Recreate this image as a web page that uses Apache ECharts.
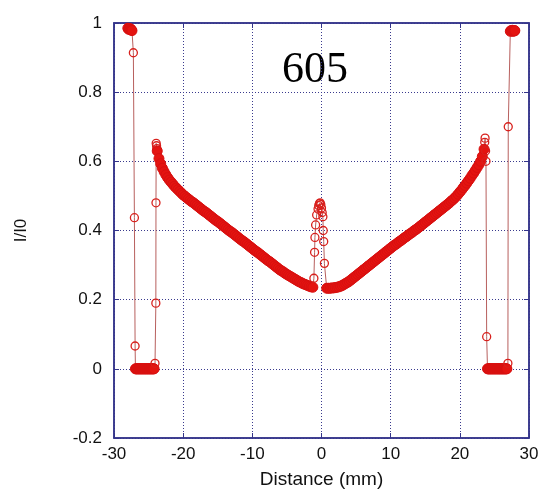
<!DOCTYPE html>
<html>
<head>
<meta charset="utf-8">
<script src="https://cdn.jsdelivr.net/npm/echarts@6/dist/echarts.min.js"></script>
<style>
html,body{margin:0;padding:0;background:#fff;}
#chart{width:544px;height:496px;}
</style>
</head>
<body>
<div id="chart"></div>
<script>
// ---- data ----
const xTicks = [-30, -20, -10, 0, 10, 20, 30];
const yTicks = [-0.2, 0, 0.2, 0.4, 0.6, 0.8, 1];

// left edge (open beam, drop)
const leftTopX = [-28.0, -27.9, -27.8, -27.7, -27.6, -27.5, -27.4];
const leftTopY = [0.985, 0.982, 0.984, 0.981, 0.983, 0.980, 0.978];
const leftDropX = [-27.2, -27.05, -26.95];
const leftDropY = [0.914, 0.437, 0.066];
// blocked region on the left: scan grid start / step and read values
const leftZeroStart = -26.9, zeroStep = 0.1;
const leftZeroY = [0,0,0,0,0,0,0,0,0,0,0,0,0,0,0,0,0,0,0,0,0,0,0,0,0,0,0,0];
const leftRiseX = [-24.07, -23.95, -23.93];
const leftRiseY = [0.016, 0.190, 0.480];
const leftPeakX = [-23.9, -23.85, -23.8];
const leftPeakY = [0.652, 0.645, 0.637];

// left descending curve, scan grid from -23.75 step 0.25
const leftCurveStart = -23.75, curveStep = 0.25;
const leftCurveY = [
 0.630,0.608,0.593,0.580,0.570,0.561,0.553,0.546,0.540,0.534,0.528,0.523,0.518,0.513,0.508,0.503,
 0.499,0.495,0.491,0.487,0.483,0.480,0.476,0.472,0.468,0.464,0.460,0.456,0.453,0.449,0.445,0.441,
 0.437,0.433,0.429,0.426,0.422,0.418,0.414,0.410,0.406,0.402,0.398,0.395,0.391,0.387,0.383,0.379,
 0.375,0.371,0.368,0.364,0.360,0.356,0.352,0.348,0.344,0.340,0.337,0.333,0.329,0.325,0.321,0.317,
 0.313,0.310,0.306,0.302,0.298,0.294,0.290,0.286,0.283,0.280,0.276,0.273,0.270,0.267,0.264,0.261,
 0.258,0.255,0.252,0.250,0.247,0.245,0.243,0.241,0.239,0.237,0.236
];

// central spike
const spikeX = [-1.1, -1.0, -0.95, -0.85, -0.7, -0.5, -0.4, -0.3, -0.2, -0.1, 0.0, 0.1, 0.2, 0.25, 0.32, 0.42];
const spikeY = [0.262, 0.337, 0.380, 0.416, 0.445, 0.462, 0.472, 0.478, 0.480, 0.475, 0.465, 0.452, 0.440, 0.400, 0.368, 0.305];

// right ascending curve, scan grid from 0.75 step 0.25
const rightCurveStart = 0.75;
const rightCurveY = [
 0.233,0.233,0.233,0.234,0.234,0.235,0.236,0.237,0.239,0.241,0.244,0.247,0.250,0.253,0.257,0.261,
 0.265,0.269,0.273,0.277,0.281,0.285,0.289,0.293,0.297,0.301,0.305,0.309,0.313,0.317,0.321,0.325,
 0.329,0.333,0.337,0.341,0.345,0.349,0.353,0.357,0.360,0.364,0.368,0.371,0.375,0.379,0.382,0.386,
 0.390,0.393,0.397,0.401,0.404,0.408,0.412,0.416,0.420,0.424,0.428,0.432,0.436,0.440,0.444,0.448,
 0.452,0.456,0.460,0.464,0.468,0.472,0.476,0.480,0.485,0.489,0.494,0.499,0.505,0.511,0.517,0.524,
 0.530,0.537,0.544,0.551,0.559,0.566,0.574,0.582,0.590,0.600,0.614,0.635
];

// right edge (peak, drop, blocked region, rise to open beam)
const rightDropX = [23.6, 23.65, 23.72, 23.78, 23.88];
const rightDropY = [0.655, 0.667, 0.630, 0.600, 0.093];
const rightZeroStart = 24.0;
const rightZeroY = [0,0,0,0,0,0,0,0,0,0,0,0,0,0,0,0,0,0,0,0,0,0,0,0,0,0,0,0,0];
const rightRiseX = [26.95, 27.0];
const rightRiseY = [0.016, 0.700];
const rightTopX = [27.3, 27.4, 27.5, 27.6, 27.7, 27.8, 27.9, 27.95];
const rightTopY = [0.976, 0.978, 0.977, 0.979, 0.976, 0.978, 0.977, 0.978];

// ---- assemble series data (dense runs drawn as overlapping, solid-looking marks) ----
const dense = {color:'#e41410', borderColor:'#d81010', borderWidth:1};
const pts = [];
function addXY(xs, ys, solid){
  for(let i=0;i<xs.length;i++) pts.push(solid ? {value:[xs[i], ys[i]], itemStyle:dense, symbolSize:10} : [xs[i], ys[i]]);
}
function addGrid(x0, step, ys){
  for(let i=0;i<ys.length;i++) pts.push({value:[+(x0+i*step).toFixed(3), ys[i]], itemStyle:dense, symbolSize:10});
}
addXY(leftTopX, leftTopY, true);
addXY(leftDropX, leftDropY, false);
addGrid(leftZeroStart, zeroStep, leftZeroY);
addXY(leftRiseX, leftRiseY, false);
addXY(leftPeakX, leftPeakY, false);
addGrid(leftCurveStart, curveStep, leftCurveY);
addXY(spikeX, spikeY, false);
addGrid(rightCurveStart, curveStep, rightCurveY);
addXY(rightDropX, rightDropY, false);
addGrid(rightZeroStart, zeroStep, rightZeroY);
addXY(rightRiseX, rightRiseY, false);
addXY(rightTopX, rightTopY, true);

const navy = '#34348a';
const gridLine = {show:true, lineStyle:{color:'#3a3a8e', width:1, type:[1,2]}};
const labelFont = {fontFamily:'Liberation Sans, Arial, sans-serif', fontSize:17, color:'#111'};
const axLine = {show:true, onZero:false, lineStyle:{color:navy, width:1.5}};
const axTick = {show:true, inside:true, length:5, lineStyle:{color:navy}};

const chart = echarts.init(document.getElementById('chart'), null, {renderer:'canvas'});
chart.setOption({
  animation:false,
  backgroundColor:'#fff',
  grid:{left:114, right:15, top:23, bottom:58, show:true, borderColor:navy, borderWidth:1.5, backgroundColor:'transparent'},
  xAxis:[{
    type:'value', min:-30, max:30, interval:10,
    name:'Distance (mm)', nameLocation:'middle', nameGap:32,
    nameTextStyle:{fontFamily:'Liberation Sans, Arial, sans-serif', fontSize:19, color:'#111'},
    axisLine:axLine, axisTick:axTick,
    axisLabel:Object.assign({margin:8, formatter:v=>xTicks.includes(v)?String(v):''}, labelFont),
    splitLine:gridLine
  },{
    type:'value', min:-30, max:30, interval:10, position:'top',
    axisLine:axLine, axisTick:axTick,
    axisLabel:{show:false}, splitLine:{show:false}
  }],
  yAxis:[{
    type:'value', min:-0.2, max:1, interval:0.2,
    name:'I/I0', nameLocation:'middle', nameGap:84, nameRotate:90,
    nameTextStyle:{fontFamily:'Liberation Sans, Arial, sans-serif', fontSize:17, color:'#111'},
    axisLine:axLine, axisTick:axTick,
    axisLabel:Object.assign({margin:12, formatter:v=>{
      const r = Math.round(v*10)/10;
      return yTicks.includes(r) ? String(r) : '';
    }}, labelFont),
    splitLine:gridLine
  },{
    type:'value', min:-0.2, max:1, interval:0.2, position:'right',
    axisLine:axLine, axisTick:axTick,
    axisLabel:{show:false}, splitLine:{show:false}
  }],
  graphic:[{
    type:'text', left:282, top:48,
    style:{text:'605', font:'44px "Liberation Serif", "Times New Roman", serif', fill:'#000'}
  }],
  series:[{
    type:'line', data:pts, xAxisIndex:0, yAxisIndex:0,
    showSymbol:true, showAllSymbol:true, symbol:'circle', symbolSize:8,
    lineStyle:{color:'#b8605e', width:1},
    itemStyle:{color:'rgba(255,255,255,0)', borderColor:'#d8201c', borderWidth:1.3},
    emphasis:{disabled:true}, z:3
  }]
});
</script>
</body>
</html>
